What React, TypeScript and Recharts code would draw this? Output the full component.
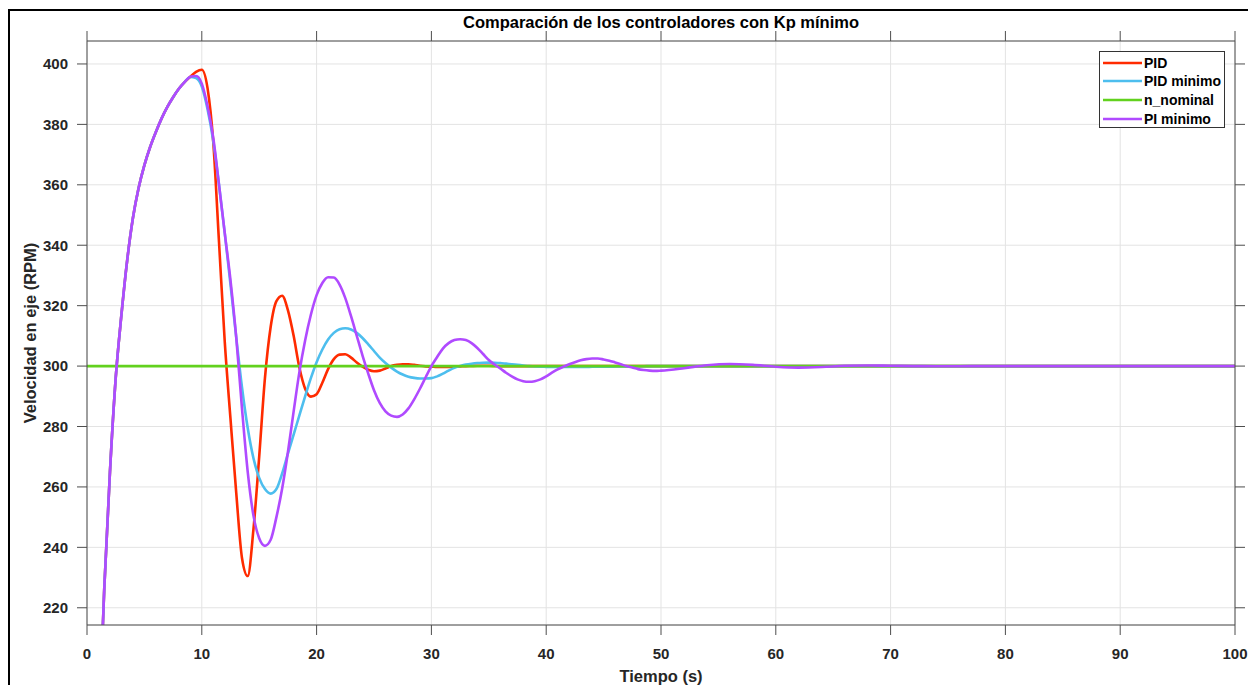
import React from 'react';
import { LineChart, Line, XAxis, YAxis, CartesianGrid, Legend } from 'recharts';

const FONT = '"Liberation Sans", Arial, Helvetica, sans-serif';

// sample times (s)
const time = [
  0, 0.5, 1, 1.5, 2, 2.5, 3, 3.5, 4, 4.5,
  5, 5.5, 6, 6.5, 7, 7.5, 8, 8.5, 9, 9.5,
  10, 10.5, 11, 11.5, 12, 12.5, 13, 13.5, 14, 14.5,
  15, 15.5, 16, 16.5, 17, 17.5, 18, 18.5, 19, 19.5,
  20, 20.5, 21, 21.5, 22, 22.5, 23, 23.5, 24, 24.5,
  25, 25.5, 26, 26.5, 27, 27.5, 28, 28.5, 29, 29.5,
  30, 30.5, 31, 31.5, 32, 32.5, 33, 33.5, 34, 34.5,
  35, 35.5, 36, 36.5, 37, 37.5, 38, 38.5, 39, 39.5,
  40, 40.5, 41, 41.5, 42, 42.5, 43, 43.5, 44, 44.5,
  45, 45.5, 46, 46.5, 47, 47.5, 48, 48.5, 49, 49.5,
  50,
  52, 54, 56, 58, 60, 62, 64, 66, 68, 70, 72, 74, 76, 78,
  80, 82, 84, 86, 88, 90, 92, 94, 96, 98, 100,
];

const pid = [
  50, 118, 176, 226, 265, 296, 317, 335, 349, 359,
  366.5, 372.5, 377.5, 382, 385.8, 389, 391.8, 394, 395.8, 397.4,
  398.1, 392, 374, 341, 308, 282.5, 258, 236.5, 230.5, 246,
  270, 296, 313, 321.5, 323.3, 318.5, 310, 299.5, 292.5, 289.9,
  290.7, 294.5, 299, 302.3, 303.8, 303.9, 302.8, 301.2, 299.8, 298.8,
  298.3, 298.5, 299.2, 300, 300.4, 300.6, 300.6, 300.4, 300.1, 299.9,
  299.8, 299.7, 299.7, 299.7, 299.8, 299.9, 300, 300.05, 300.1, 300.1,
  300.1, 300.05, 300, 300, 300, 300, 300, 300, 300, 300,
  300, 300, 300, 300, 300, 300, 300, 300, 300, 300,
  300, 300, 300, 300, 300, 300, 300, 300, 300, 300,
  300,
  300, 300, 300, 300, 300, 300, 300, 300, 300, 300, 300, 300, 300, 300,
  300, 300, 300, 300, 300, 300, 300, 300, 300, 300, 300,
];

const pidMinimo = [
  50, 118, 176, 226, 265, 296, 317, 335, 349, 359,
  366.5, 372.5, 377.5, 382, 385.8, 389, 391.8, 394, 395.7, 395.3,
  392.5, 385, 374.5, 360, 344, 327, 309.5, 293, 279.5, 269.5,
  263, 259.3, 257.8, 259.3, 264.5, 271, 277.3, 283.7, 290, 296,
  301.3, 305.5, 308.8, 311, 312.2, 312.5, 312.1, 311, 309.3, 307.2,
  305, 302.8, 301, 299.5, 298.2, 297.2, 296.5, 296.1, 295.9, 295.9,
  296, 296.6, 297.5, 298.5, 299.4, 300, 300.5, 300.8, 301, 301.1,
  301.15, 301.1, 301, 300.8, 300.6, 300.4, 300.2, 300, 299.9, 299.8,
  299.75, 299.7, 299.7, 299.7, 299.7, 299.7, 299.72, 299.74, 299.76, 299.78,
  299.8, 299.82, 299.85, 299.87, 299.9, 299.92, 299.94, 299.96, 299.98, 300,
  300,
  300, 300, 300, 300, 300, 300, 300, 300, 300, 300, 300, 300, 300, 300,
  300, 300, 300, 300, 300, 300, 300, 300, 300, 300, 300,
];

const nNominal = 300;

const piMinimo = [
  50, 118, 176, 226, 265, 296, 317, 335, 349, 359,
  366.5, 372.5, 377.5, 382, 385.8, 389, 391.8, 394, 395.8, 396,
  393.5, 386, 375.5, 360, 344, 328.4, 309.5, 286, 265, 250.5,
  243, 240.5, 242.5, 250, 259.5, 271.5, 285, 298, 308.5, 317,
  323.5, 327.5, 329.4, 329.3, 327, 322.5, 316.5, 310, 303.5, 297.5,
  292, 287.8, 285, 283.6, 283.2, 284, 286, 289, 292.5, 296.3,
  300, 303, 305.8, 307.6, 308.6, 308.9, 308.6, 307.6, 306, 304,
  302, 300.5, 299.2, 297.8, 296.6, 295.6, 295, 294.8, 295, 295.6,
  296.6, 297.8, 298.9, 299.8, 300.6, 301.3, 301.9, 302.3, 302.5, 302.5,
  302.2, 301.8, 301.2, 300.6, 300, 299.5, 299, 298.7, 298.5, 298.4,
  298.5,
  299.3, 300.3, 300.7, 300.4, 299.8, 299.5, 299.7, 300.1, 300.2, 300.1, 300, 299.95, 299.95, 300,
  300, 300, 300, 300, 300, 300, 300, 300, 300, 300, 300,
];

const xTicks = [0, 10, 20, 30, 40, 50, 60, 70, 80, 90, 100];
const yTicks = [220, 240, 260, 280, 300, 320, 340, 360, 380, 400];
const xDomain = [0, 100];
const yDomain = [214.3, 407.6];

// the nominal line sits on the box axes (top/right) so those get drawn too
const seriesList = [
  { key: 'pid', name: 'PID', color: '#ff2b00', xAxisId: 0, yAxisId: 0 },
  { key: 'pidMinimo', name: 'PID minimo', color: '#4dbeee', xAxisId: 0, yAxisId: 0 },
  { key: 'nNominal', name: 'n_nominal', color: '#62d11e', xAxisId: 'top', yAxisId: 'right' },
  { key: 'piMinimo', name: 'PI minimo', color: '#b04aff', xAxisId: 0, yAxisId: 0 },
];

const chartData = time.map((t, i) => ({
  t,
  pid: pid[i],
  pidMinimo: pidMinimo[i],
  nNominal: nNominal,
  piMinimo: piMinimo[i],
}));

const axisColor = '#4d4d4d';
const tickStyle = { fill: '#262626', fontSize: 15, fontWeight: 'bold', fontFamily: FONT };
const hiddenTick = { fill: 'transparent', fontSize: 1 };

function MatlabLegend() {
  return (
    <div
      style={{
        width: 124,
        height: 74,
        paddingTop: 1.3,
        border: '1px solid #333',
        background: '#fff',
        fontFamily: FONT,
      }}
    >
      {seriesList.map((s) => (
        <div key={s.key} style={{ display: 'flex', alignItems: 'center', height: 18.8 }}>
          <svg width={44} height={10} style={{ display: 'block' }}>
            <line x1={3} x2={42} y1={5} y2={5} stroke={s.color} strokeWidth={2.6} />
          </svg>
          <span style={{ fontSize: 14, fontWeight: 'bold', color: '#000', whiteSpace: 'nowrap' }}>{s.name}</span>
        </div>
      ))}
    </div>
  );
}

export default function App() {
  return (
    <div style={{ position: 'relative', width: 1248, height: 685, overflow: 'hidden', background: '#fff', fontFamily: FONT }}>
      <style>{'html,body{margin:0;padding:0;overflow:hidden;background:#fff}'}</style>
      <div
        style={{
          position: 'absolute',
          left: 8,
          top: 9,
          width: 1400,
          height: 800,
          borderLeft: '2px solid #000',
          borderTop: '2px solid #000',
        }}
      />
      <div style={{ position: 'absolute', left: 0, top: 0 }}>
        <LineChart width={1248} height={685} data={chartData} margin={{ top: 31, right: 3, bottom: 20, left: 37 }}>
          <CartesianGrid stroke="#e3e3e3" />
          <XAxis
            dataKey="t"
            type="number"
            domain={xDomain}
            ticks={xTicks}
            interval={0}
            height={40}
            tickSize={10}
            tickMargin={13}
            stroke={axisColor}
            tick={tickStyle}
            allowDataOverflow
          />
          <XAxis
            xAxisId="top"
            dataKey="t"
            orientation="top"
            type="number"
            domain={xDomain}
            ticks={xTicks}
            interval={0}
            height={10}
            tickSize={10}
            tickLine={{ stroke: axisColor }}
            tick={hiddenTick}
            stroke={axisColor}
            allowDataOverflow
          />
          <YAxis
            type="number"
            domain={yDomain}
            ticks={yTicks}
            interval={0}
            width={50}
            tickSize={10}
            tickMargin={9}
            stroke={axisColor}
            tick={tickStyle}
            allowDataOverflow
          />
          <YAxis
            yAxisId="right"
            orientation="right"
            type="number"
            domain={yDomain}
            ticks={yTicks}
            interval={0}
            width={10}
            tickSize={10}
            tickLine={{ stroke: axisColor }}
            tick={hiddenTick}
            stroke={axisColor}
            allowDataOverflow
          />
          <Legend
            layout="vertical"
            align="center"
            verticalAlign="middle"
            content={() => <MatlabLegend />}
            wrapperStyle={{ left: 1099, top: 51, width: 126, height: 77 }}
          />
          {seriesList.map((s) => (
            <Line
              key={s.key}
              xAxisId={s.xAxisId}
              yAxisId={s.yAxisId}
              dataKey={s.key}
              name={s.name}
              type="monotone"
              stroke={s.color}
              strokeWidth={2.6}
              dot={false}
              activeDot={false}
              isAnimationActive={false}
            />
          ))}
        </LineChart>
      </div>
      <div
        style={{
          position: 'absolute',
          left: 361,
          width: 600,
          top: 12,
          lineHeight: '20px',
          textAlign: 'center',
          fontSize: 16.5,
          fontWeight: 'bold',
          color: '#000',
        }}
      >
        Comparación de los controladores con Kp mínimo
      </div>
      <div
        style={{
          position: 'absolute',
          left: 461,
          width: 400,
          top: 666,
          lineHeight: '20px',
          textAlign: 'center',
          fontSize: 16.5,
          fontWeight: 'bold',
          color: '#262626',
        }}
      >
        Tiempo (s)
      </div>
      <div
        style={{
          position: 'absolute',
          left: 30 - 150,
          width: 300,
          top: 333 - 10,
          lineHeight: '20px',
          textAlign: 'center',
          fontSize: 16.5,
          fontWeight: 'bold',
          color: '#262626',
          transform: 'rotate(-90deg)',
        }}
      >
        Velocidad en eje (RPM)
      </div>
    </div>
  );
}
